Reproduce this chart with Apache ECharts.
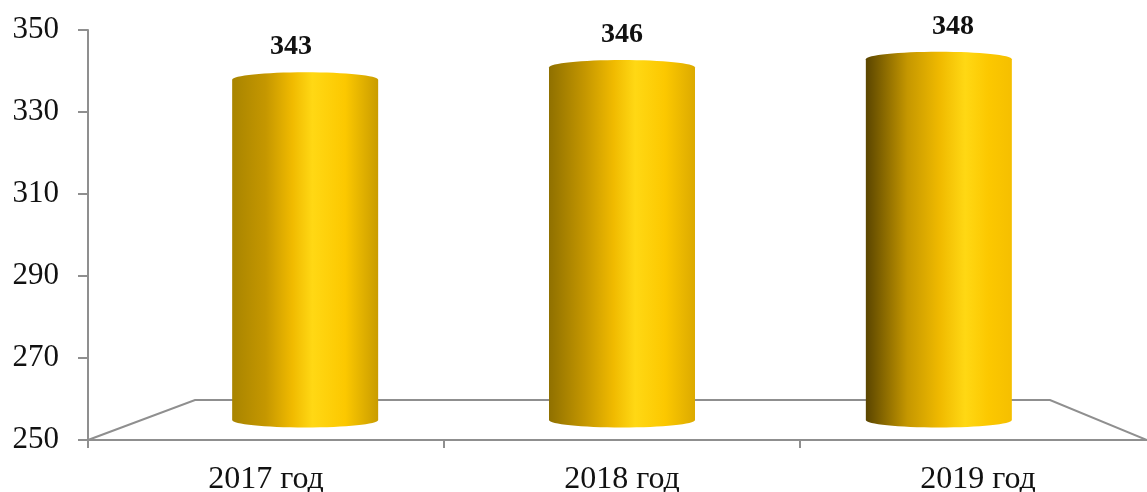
<!DOCTYPE html>
<html><head><meta charset="utf-8">
<style>html,body{margin:0;padding:0;background:#fff}#c{width:1147px;height:492px}</style>
<script src="https://cdn.jsdelivr.net/npm/echarts@6/dist/echarts.min.js"></script>
</head><body><div id="c"></div>
<script>
const categories = ['2017 год', '2018 год', '2019 год'];
const values = [343, 346, 348];
const yTicks = [250, 270, 290, 310, 330, 350];
const FONT = '"Liberation Serif","Times New Roman",serif';
const AXIS = '#8f8f8f';
// per-bar cylinder shading: the lighting shifts with the viewing angle
const edgeColors = ['#a88400', '#8f7000', '#5a4500'];
const rightColors = ['#c99c00', '#dcaa00', '#f5bf00'];
const highlights = [0.55, 0.59, 0.68];
const chart = echarts.init(document.getElementById('c'), null, {renderer: 'canvas'});

function renderFloor(params, api) {
  if (params.dataIndex !== 0) return;
  const r = params.coordSys;
  const y0 = r.y + r.height, yb = y0 - 40;
  return {type: 'polyline', silent: true, shape: {points: [[88, y0], [195, yb], [1050, yb], [1147, y0]]},
    style: {fill: null, stroke: AXIS, lineWidth: 2}};
}
function renderBar(params, api) {
  const i = api.value(0), v = api.value(1);
  const r = params.coordSys;
  const mid = r.x + r.width / 2;
  const bx = api.coord([i, v])[0];
  const cx = mid + (bx - mid) * 0.89;
  const cxL = mid + (bx - mid) * 0.93;
  const yt = api.coord([i, v])[1];
  const top = yt + 21, bottom = api.coord([i, 250])[1] - 20;
  const hw = 73, ry = 7.5;
  const k = 0.5523;
  const hl = highlights[params.dataIndex];
  const path = `M${cx-hw} ${top} C${cx-hw} ${top-ry*k} ${cx-hw*k} ${top-ry} ${cx} ${top-ry} C${cx+hw*k} ${top-ry} ${cx+hw} ${top-ry*k} ${cx+hw} ${top} L${cx+hw} ${bottom} C${cx+hw} ${bottom+ry*k} ${cx+hw*k} ${bottom+ry} ${cx} ${bottom+ry} C${cx-hw*k} ${bottom+ry} ${cx-hw} ${bottom+ry*k} ${cx-hw} ${bottom} Z`;
  return {type: 'group', children: [
    {type: 'path', shape: {pathData: path}, style: {fill: new echarts.graphic.LinearGradient(0, 0, 1, 0, [
      {offset: 0, color: edgeColors[params.dataIndex]},
      {offset: hl * 0.42, color: '#c59700'},
      {offset: hl * 0.75, color: '#f0ba00'},
      {offset: hl, color: '#ffd814'},
      {offset: hl + (1 - hl) * 0.5, color: '#fcc800'},
      {offset: 1, color: rightColors[params.dataIndex]}])}},
    {type: 'text', style: {x: cxL, y: yt - 11.5, text: String(v), align: 'center', verticalAlign: 'middle',
      font: 'bold 28px ' + FONT, fill: '#111'}}
  ]};
}
chart.setOption({
  animation: false,
  grid: {left: 88, width: 1068, top: 30, height: 410, outerBoundsMode: 'none'},
  xAxis: {type: 'category', data: categories,
    axisLine: {lineStyle: {color: AXIS, width: 2}},
    axisTick: {show: true, length: 8, lineStyle: {color: AXIS, width: 2}},
    axisLabel: {fontFamily: FONT, fontSize: 32, color: '#111', margin: 24}},
  yAxis: {type: 'value', min: yTicks[0], max: yTicks[yTicks.length - 1], interval: 20,
    axisLine: {show: true, lineStyle: {color: AXIS, width: 2}},
    axisTick: {show: true, length: 10, lineStyle: {color: AXIS, width: 2}},
    splitLine: {show: false},
    axisLabel: {fontFamily: FONT, fontSize: 31, color: '#111', margin: 29, padding: [4, 0, 0, 0]}},
  series: [
    {type: 'custom', z: 1, clip: false, renderItem: renderFloor, silent: true,
      data: values.map((v, i) => [i, v])},
    {type: 'custom', z: 2, clip: false, renderItem: renderBar,
      data: values.map((v, i) => [i, v])}
  ]
});
</script></body></html>
